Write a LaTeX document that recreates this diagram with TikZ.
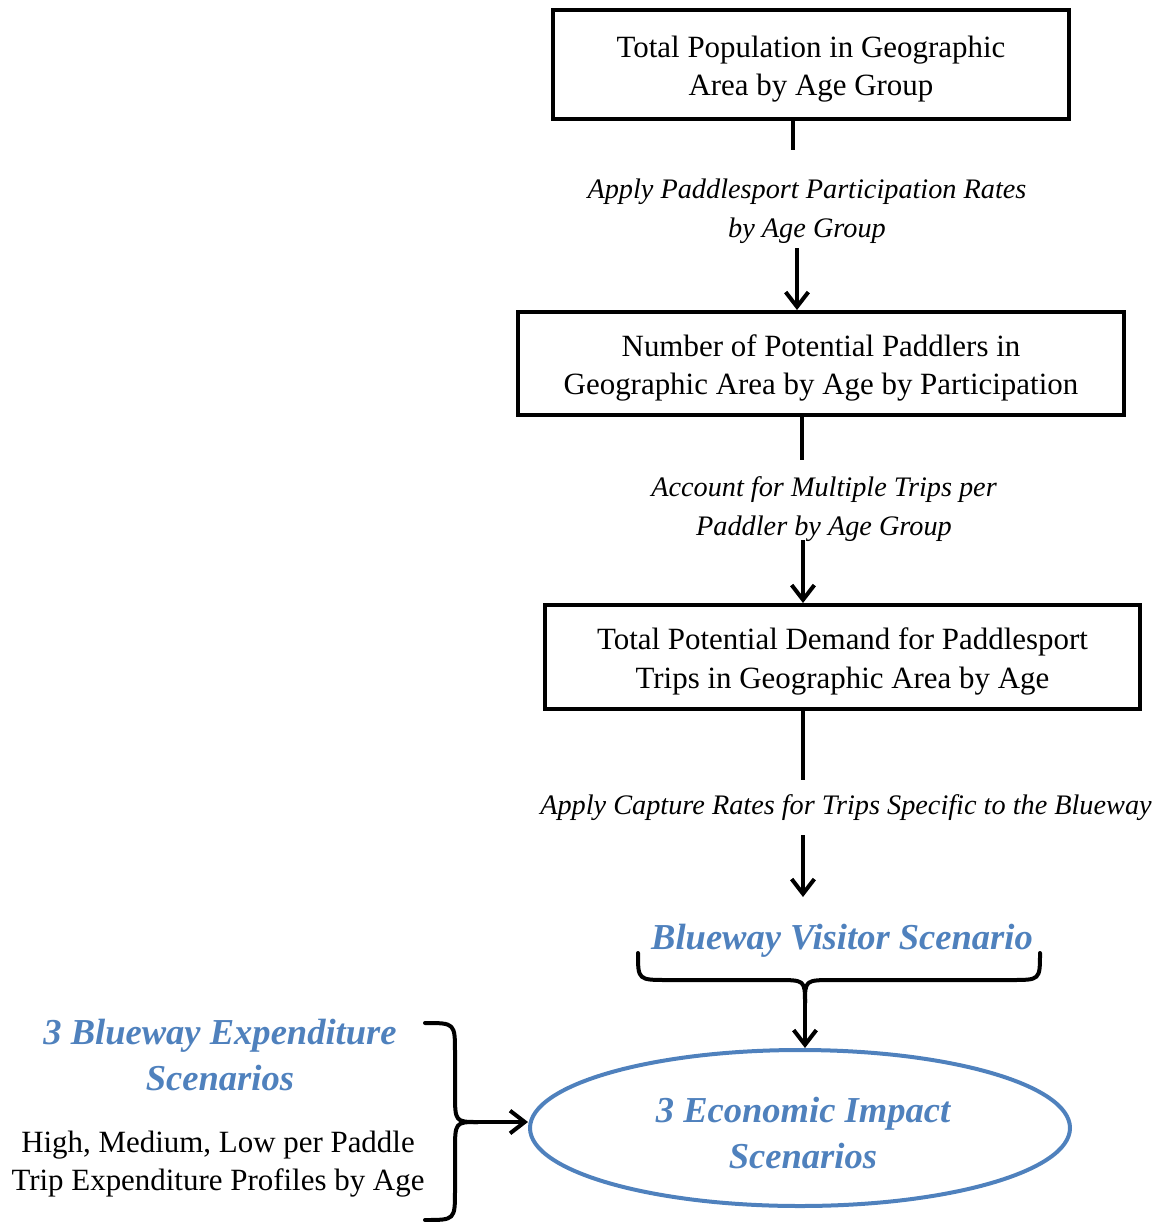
\documentclass[tikz,border=0pt]{standalone}
\usepackage{fontspec}
\setmainfont{Liberation Serif}
\usetikzlibrary{arrows.meta,shapes.geometric}
\definecolor{officeblue}{RGB}{79,129,189}
\newcommand{\downtext}[1]{\raisebox{-3.3pt}[\height][\depth]{\begin{tabular}{@{}c@{}}#1\end{tabular}}}
\begin{document}
\begin{tikzpicture}[x=0.75pt,y=-0.75pt,
  boxnode/.style={draw,line width=3pt,align=center,inner sep=0pt,font=\fontsize{23.2}{29}\selectfont},
  lbl/.style={align=center,inner sep=0pt,text depth=0pt,font=\fontsize{21.2}{29}\selectfont\itshape},
  bluetitle/.style={align=center,inner sep=0pt,text=officeblue,font=\fontsize{27.4}{34}\selectfont\bfseries\itshape},
  plain/.style={align=center,inner sep=0pt,font=\fontsize{23.2}{29}\selectfont},
  link/.style={line width=3pt},
  arr/.style={line width=3pt,-{Straight Barb[length=11pt,width=17pt,line width=3pt]}},
  bracepath/.style={line width=3pt,line cap=round,line join=round}]
\useasboundingbox (0,0) rectangle (1166,1222);

% boxes
\node[boxnode,minimum width=516*0.75pt,minimum height=109*0.75pt] (b1) at (811,64.5)
  {\downtext{Total Population in Geographic\\Area by Age Group}};
\node[boxnode,minimum width=606*0.75pt,minimum height=103*0.75pt] (b2) at (821,363.5)
  {\downtext{Number of Potential Paddlers in\\Geographic Area by Age by Participation}};
\node[boxnode,minimum width=595*0.75pt,minimum height=104*0.75pt] (b3) at (842.5,657)
  {\downtext{Total Potential Demand for Paddlesport\\Trips in Geographic Area by Age}};

% step labels
\node[lbl] (l1) at (807,208) {Apply Paddlesport Participation Rates\\by Age Group};
\node[lbl] (l2) at (824,506) {Account for Multiple Trips per\\Paddler by Age Group};
\node[lbl] (l3) at (846,805) {Apply Capture Rates for Trips Specific to the Blueway};

% scenario title
\node[bluetitle] (vs) at (842,941) {Blueway Visitor Scenario};

% ellipse
\node[ellipse,draw=officeblue,line width=3pt,inner sep=0pt,
  minimum width=540*0.75pt,minimum height=156*0.75pt] (e) at (800,1128) {};
\node[bluetitle,font=\fontsize{27.4}{35}\selectfont\bfseries\itshape] (et) at (803,1133) {3 Economic Impact\\Scenarios};

% left texts
\node[bluetitle] (lt1) at (220,1055) {3 Blueway Expenditure\\Scenarios};
\node[plain] (lt2) at (218,1164) {High, Medium, Low per Paddle\\Trip Expenditure Profiles by Age};

% connector coordinates
\coordinate (c1a) at (793,150);
\coordinate (c1b) at (797,248);
\coordinate (c2a) at (802,460);
\coordinate (c2b) at (803,540);
\coordinate (c3a) at (803,780);
\coordinate (c3b) at (803,835);
\coordinate (c3c) at (803,897);
\coordinate (tb) at (805,1003);
\coordinate (lb) at (478,1122);

\draw[link] (b1.south -| c1a) -- (c1a);
\draw[arr] (c1b) -- (b2.north -| c1b);
\draw[link] (b2.south -| c2a) -- (c2a);
\draw[arr] (c2b) -- (b3.north -| c2b);
\draw[link] (b3.south -| c3a) -- (c3a);
\draw[arr] (c3b) -- (c3c);

% top brace
\draw[bracepath] (638,953) .. controls (638,980) .. (668,980) -- (776,980)
  .. controls (805,980) .. (tb);
\draw[bracepath] (tb) .. controls (805,980) .. (834,980) -- (1011,980)
  .. controls (1040,980) .. (1040,953);
\draw[arr] (tb) -- (tb |- e.north);

% left brace
\draw[bracepath] (425,1023) .. controls (455,1023) .. (455,1053) -- (455,1092)
  .. controls (455,1122) .. (lb);
\draw[bracepath] (lb) .. controls (455,1122) .. (455,1152) -- (455,1190)
  .. controls (455,1220) .. (425,1220);
\draw[arr] (lb) -- (lb -| e.west);
\end{tikzpicture}
\end{document}
